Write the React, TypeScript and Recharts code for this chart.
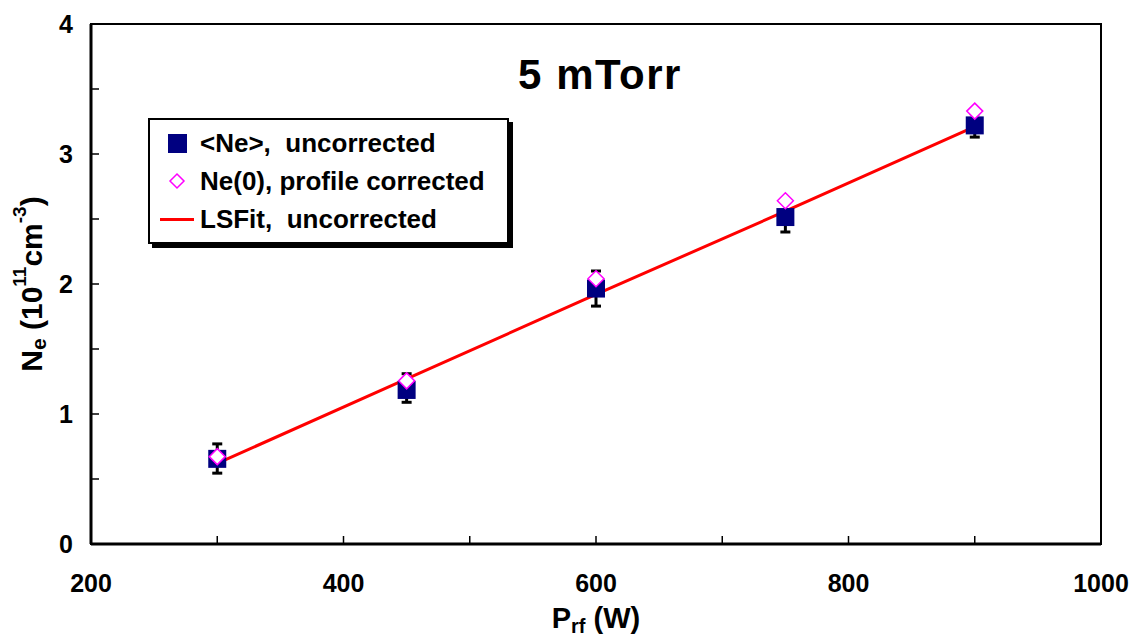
import React from "react";
import {
  ComposedChart,
  ErrorBar,
  Legend,
  Line,
  ReferenceArea,
  Scatter,
  XAxis,
  YAxis,
} from "recharts";

const powers = [300, 450, 600, 750, 900];
const neUncorrected = [0.655, 1.185, 1.965, 2.515, 3.22];
const neErrors = [
  [0.11, 0.115],
  [0.095, 0.125],
  [0.135, 0.135],
  [0.115, 0.115],
  [0.09, 0.09],
];
const neProfile = [0.672, 1.255, 2.04, 2.64, 3.33];
const lsFit = [0.62, 1.27, 1.92, 2.56, 3.21];

const xTicks = [200, 300, 400, 500, 600, 700, 800, 900, 1000];
const yTicks = [0, 0.5, 1, 1.5, 2, 2.5, 3, 3.5, 4];

const data = powers.map((p, i) => ({
  power: p,
  ne: neUncorrected[i],
  err: neErrors[i],
  ne0: neProfile[i],
  fit: lsFit[i],
}));

const FONT = "'Liberation Sans', Arial, sans-serif";

function XTick({ x, y, payload }: any) {
  const major = payload.value % 200 === 0;
  return (
    <g>
      <line x1={x} y1={y} x2={x} y2={y - 8} stroke="#000" strokeWidth={1.5} />
      {major && (
        <text
          x={x}
          y={y + 48}
          textAnchor="middle"
          fontFamily={FONT}
          fontWeight="bold"
          fontSize={25}
          fill="#000"
        >
          {payload.value}
        </text>
      )}
    </g>
  );
}

function YTick({ x, y, payload }: any) {
  const major = Number.isInteger(payload.value);
  return (
    <g>
      <line x1={x} y1={y} x2={x + 8} y2={y} stroke="#000" strokeWidth={1.5} />
      {major && (
        <text
          x={x - 18}
          y={y + 9}
          textAnchor="end"
          fontFamily={FONT}
          fontWeight="bold"
          fontSize={25}
          fill="#000"
        >
          {payload.value}
        </text>
      )}
    </g>
  );
}

function YLabel({ viewBox }: any) {
  const cx = 31;
  const cy = viewBox.y + viewBox.height / 2;
  return (
    <text
      x={cx}
      y={cy}
      transform={`rotate(-90 ${cx} ${cy})`}
      textAnchor="middle"
      dominantBaseline="central"
      fontFamily={FONT}
      fontWeight="bold"
      fontSize={30}
      fill="#000"
    >
      N
      <tspan dy={7} fontSize={21}>e</tspan>
      <tspan dy={-7}> (10</tspan>
      <tspan dy={-12} fontSize={19}>11</tspan>
      <tspan dy={12}>cm</tspan>
      <tspan dy={-12} fontSize={19}>-3</tspan>
      <tspan dy={12}>)</tspan>
    </text>
  );
}

function XLabel({ viewBox }: any) {
  const cx = viewBox.x + viewBox.width / 2;
  return (
    <text
      x={cx}
      y={628}
      textAnchor="middle"
      fontFamily={FONT}
      fontWeight="bold"
      fontSize={29}
      fill="#000"
    >
      P
      <tspan dy={5} fontSize={20}>rf</tspan>
      <tspan dy={-5}> (W)</tspan>
    </text>
  );
}

const Square = ({ cx, cy }: any) => (
  <rect x={cx - 9} y={cy - 9} width={18} height={18} fill="#000080" />
);

const Diamond = ({ cx, cy }: any) => (
  <polygon
    points={`${cx},${cy - 8} ${cx + 8},${cy} ${cx},${cy + 8} ${cx - 8},${cy}`}
    fill="#fff"
    stroke="#ff00ff"
    strokeWidth={1.5}
  />
);

function LegendBox() {
  const row: React.CSSProperties = {
    display: "flex",
    alignItems: "center",
    height: 38,
    whiteSpace: "pre",
  };
  const icon: React.CSSProperties = {
    width: 46,
    display: "flex",
    justifyContent: "center",
  };
  return (
    <div
      style={{
        border: "2px solid #000",
        background: "#fff",
        boxShadow: "4px 4px 0 #000",
        padding: "4px 8px 4px 4px",
        fontFamily: FONT,
        fontWeight: "bold",
        fontSize: 26,
        color: "#000",
        width: 361,
        boxSizing: "border-box",
      }}
    >
      <div style={row}>
        <span style={icon}>
          <span style={{ width: 19, height: 19, background: "#000080" }} />
        </span>
        <span>{"<Ne>,  uncorrected"}</span>
      </div>
      <div style={row}>
        <span style={icon}>
          <svg width={18} height={18}>
            <polygon points="9,2 16,9 9,16 2,9" fill="#fff" stroke="#ff00ff" strokeWidth={1.5} />
          </svg>
        </span>
        <span>Ne(0), profile corrected</span>
      </div>
      <div style={row}>
        <span style={icon}>
          <span style={{ width: 34, height: 3, background: "#ff0000" }} />
        </span>
        <span>{"LSFit,  uncorrected"}</span>
      </div>
    </div>
  );
}

export default function App() {
  return (
    <div
      style={{
        position: "absolute",
        left: 0,
        top: 0,
        width: 1133,
        height: 642,
        background: "#fff",
      }}
    >
      <ComposedChart
        width={1133}
        height={642}
        data={data}
        margin={{ top: 24, right: 32, left: 0, bottom: 0 }}
      >
        <XAxis
          dataKey="power"
          type="number"
          domain={[200, 1000]}
          ticks={xTicks}
          interval={0}
          height={98}
          tickSize={0}
          tickMargin={0}
          tick={<XTick />}
          axisLine={{ stroke: "#000", strokeWidth: 3 }}
          label={<XLabel />}
        />
        <YAxis
          type="number"
          domain={[0, 4]}
          ticks={yTicks}
          interval={0}
          width={91}
          tickSize={0}
          tickMargin={0}
          tick={<YTick />}
          axisLine={{ stroke: "#000", strokeWidth: 3 }}
          label={<YLabel />}
        />
        <ReferenceArea
          x1={200}
          x2={1000}
          y1={0}
          y2={4}
          fill="none"
          fillOpacity={0}
          stroke="#000"
          strokeWidth={2}
        />
        <Line
          dataKey="fit"
          type="linear"
          stroke="#ff0000"
          strokeWidth={3}
          dot={false}
          isAnimationActive={false}
        />
        <Scatter dataKey="ne" shape={<Square />} isAnimationActive={false}>
          <ErrorBar
            dataKey="err"
            direction="y"
            width={5}
            stroke="#000"
            strokeWidth={3}
            isAnimationActive={false}
          />
        </Scatter>
        <Scatter dataKey="ne0" shape={<Diamond />} isAnimationActive={false} />
        <Legend
          layout="vertical"
          align="center"
          verticalAlign="middle"
          content={<LegendBox />}
          wrapperStyle={{ left: 148, top: 118, width: "auto", height: "auto" }}
        />
      </ComposedChart>
      <div
        style={{
          position: "absolute",
          left: 0,
          width: 1200,
          top: 51,
          textAlign: "center",
          fontFamily: FONT,
          fontWeight: "bold",
          fontSize: 42,
          letterSpacing: 1.5,
          color: "#000",
        }}
      >
        5 mTorr
      </div>
    </div>
  );
}
